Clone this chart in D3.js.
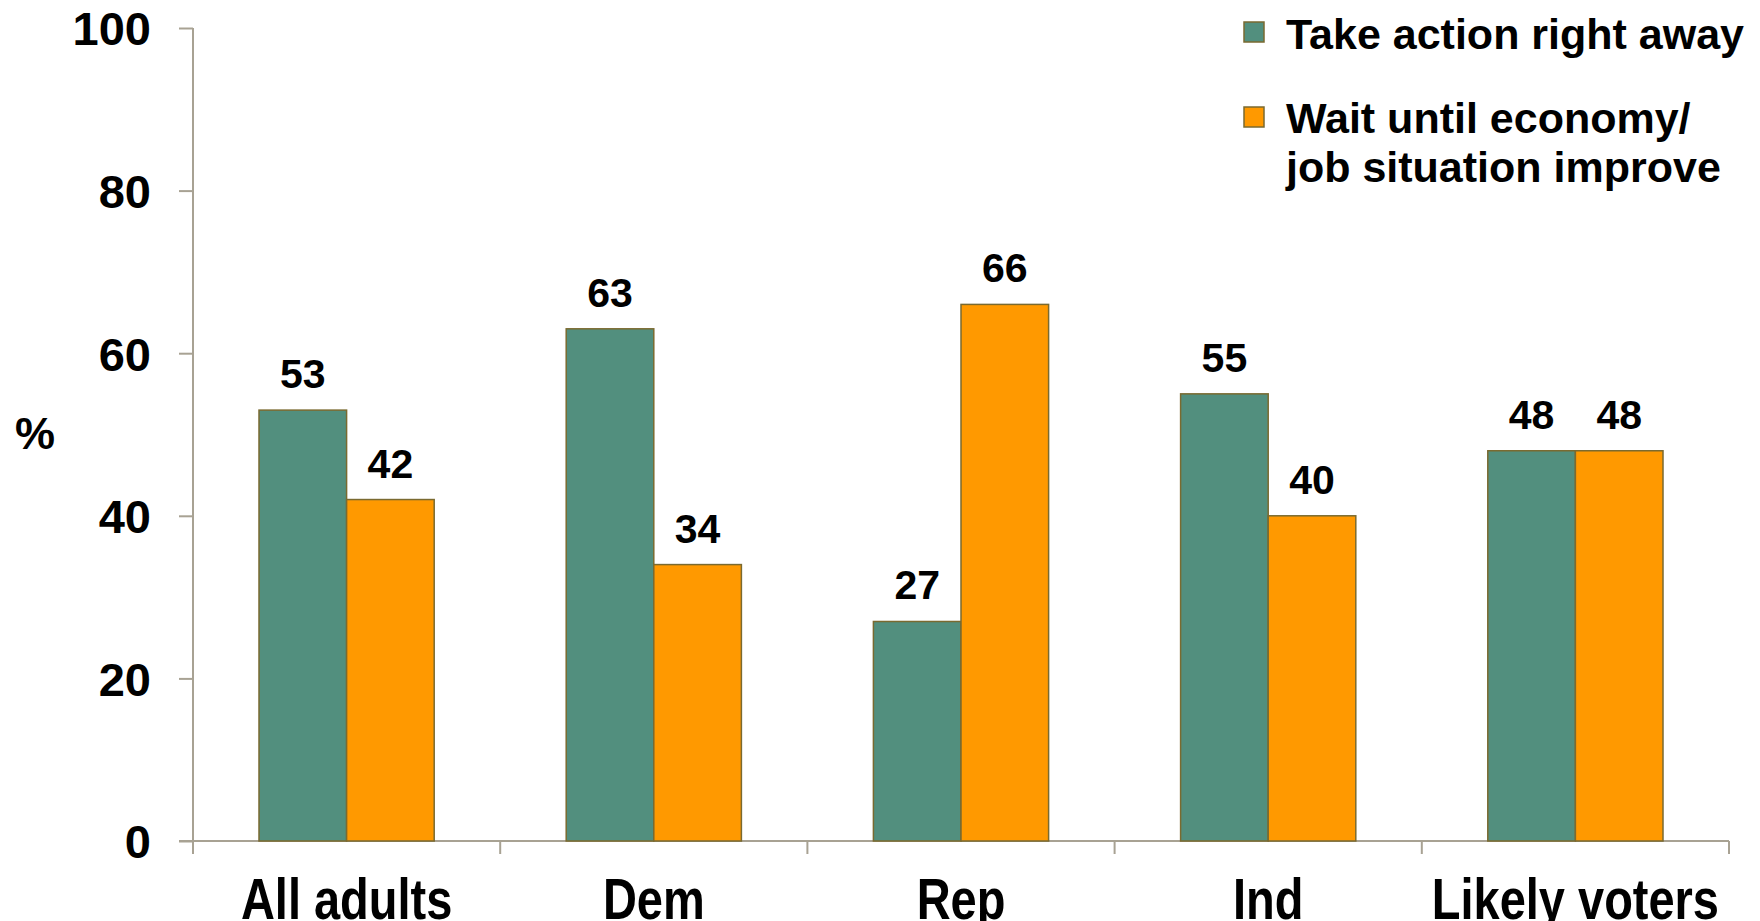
<!DOCTYPE html>
<html><head><meta charset="utf-8">
<script src="https://cdn.jsdelivr.net/npm/d3@7"></script>
<style>
html,body{margin:0;padding:0;background:#fff;}
text{font-family:"Liberation Sans",Arial,sans-serif;font-weight:bold;fill:#000;}
</style></head>
<body><svg id="c" width="1760" height="921"></svg>
<script>
const categories = ["All adults","Dem","Rep","Ind","Likely voters"];
const seriesNames = ["Take action right away","Wait until economy/ job situation improve"];
const takeAction = [53,63,27,55,48];
const waitUntil = [42,34,66,40,48];
const yTicks = [0,20,40,60,80,100];
const colors = ["#528f7e","#ff9900"];

(function(){
const svg = d3.select("#c");
const mLeft = 193, mRight = 1729, mTop = 28, mBottom = 841;
const x0 = d3.scaleBand().domain(categories).range([mLeft,mRight]).padding(0);
const x1 = d3.scaleBand().domain([0,1]).range([66, x0.bandwidth()-66]).padding(0);
const y = d3.scaleLinear().domain([0,100]).range([mBottom,mTop]);
const axisColor = "#a8a293";

// y axis
const ya = svg.append("g").attr("transform",`translate(${mLeft},0)`)
  .call(d3.axisLeft(y).tickValues(yTicks).tickSize(14).tickPadding(28).tickSizeOuter(0));
ya.select(".domain").remove();
ya.selectAll(".tick line").attr("stroke",axisColor).attr("stroke-width",2);
ya.selectAll(".tick text").style("font-size","47px").attr("dy","0.36em").attr("font-weight","bold")
  .attr("font-family","Liberation Sans, Arial, sans-serif");
svg.append("line").attr("x1",mLeft).attr("x2",mLeft).attr("y1",mTop).attr("y2",mBottom+13)
  .attr("stroke",axisColor).attr("stroke-width",2);

// x axis
svg.append("line").attr("x1",mLeft-14).attr("x2",mRight).attr("y1",mBottom).attr("y2",mBottom)
  .attr("stroke",axisColor).attr("stroke-width",2);
const bounds = categories.map(c=>x0(c)).concat([mRight]);
svg.selectAll(".xt").data(bounds).enter().append("line")
  .attr("x1",d=>d).attr("x2",d=>d).attr("y1",mBottom).attr("y2",mBottom+13)
  .attr("stroke",axisColor).attr("stroke-width",2);
svg.selectAll(".xl").data(categories).enter().append("text")
  .attr("transform",d=>`translate(${x0(d)+x0.bandwidth()/2},919) scale(0.81,1)`)
  .attr("text-anchor","middle").style("font-size","58px").text(d=>d);

// bars
const series = [takeAction, waitUntil];
series.forEach((vals,si)=>{
  const g = svg.append("g");
  g.selectAll("rect").data(vals).enter().append("rect")
    .attr("x",(d,i)=>x0(categories[i])+x1(si))
    .attr("y",d=>y(d))
    .attr("width",x1.bandwidth())
    .attr("height",d=>y(0)-y(d))
    .attr("fill",colors[si]).attr("stroke","#7a6a30").attr("stroke-width",1.5);
  g.selectAll("text").data(vals).enter().append("text")
    .attr("x",(d,i)=>x0(categories[i])+x1(si)+x1.bandwidth()/2)
    .attr("y",d=>y(d)-22)
    .attr("text-anchor","middle").style("font-size","41px").text(d=>d);
});

// y label
svg.append("text").attr("x",35).attr("y",449).attr("text-anchor","middle").style("font-size","45px").text("%");

// legend
const leg = [{lines:["Take action right away"], sy:22, ty:[49]},
             {lines:["Wait until economy/","job situation improve"], sy:107, ty:[133,182]}];
leg.forEach((l,i)=>{
  svg.append("rect").attr("x",1244).attr("y",l.sy).attr("width",20).attr("height",20)
    .attr("fill",colors[i]).attr("stroke","#7a6a30").attr("stroke-width",1.5);
  l.lines.forEach((t,j)=>{
    svg.append("text").attr("x",1286).attr("y",l.ty[j]).style("font-size","43px").text(t);
  });
});
})();
</script></body></html>
